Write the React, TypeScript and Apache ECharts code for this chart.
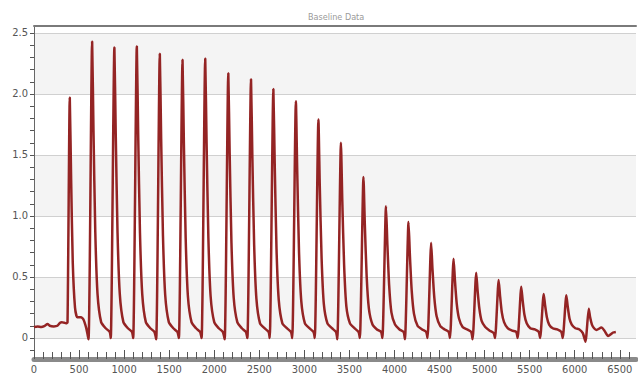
import React, { useEffect, useRef } from "react";
import * as echarts from "echarts";

const chartTitle = "Baseline Data";
const xTickLabels = [0, 500, 1000, 1500, 2000, 2500, 3000, 3500, 4000, 4500, 5000, 5500, 6000, 6500];
const yTickLabels = [0, 0.5, 1.0, 1.5, 2.0, 2.5];

// time stamps of the trace
const time = [
  0, 40, 80, 120, 150, 175, 220, 260, 290, 310, 335, 355, 372,
  397, 412, 430, 455, 480, 520, 550, 580, 605,
  645, 660, 680, 705, 745, 795, 840, 852,
  892, 907, 927, 952, 992, 1042, 1087, 1101,
  1141, 1156, 1176, 1201, 1241, 1291, 1336, 1356,
  1396, 1411, 1431, 1456, 1496, 1546, 1591, 1608,
  1648, 1663, 1683, 1708, 1748, 1798, 1843, 1860,
  1900, 1915, 1935, 1960, 2000, 2050, 2095, 2116,
  2156, 2171, 2191, 2216, 2256, 2306, 2351, 2368,
  2408, 2423, 2443, 2468, 2508, 2558, 2603, 2616,
  2656, 2671, 2691, 2716, 2756, 2806, 2851, 2866,
  2906, 2921, 2941, 2966, 3006, 3056, 3101, 3116,
  3156, 3171, 3191, 3216, 3256, 3306, 3351, 3366,
  3406, 3421, 3441, 3466, 3506, 3556, 3601, 3616,
  3656, 3671, 3691, 3716, 3756, 3806, 3851, 3866,
  3906, 3921, 3941, 3966, 4006, 4056, 4101, 4116,
  4156, 4171, 4191, 4216, 4256, 4306, 4351, 4367,
  4407, 4422, 4442, 4467, 4507, 4557, 4601, 4616,
  4656, 4671, 4691, 4716, 4756, 4806, 4851, 4867,
  4907, 4922, 4942, 4967, 5007, 5057, 5101, 5116,
  5156, 5171, 5191, 5216, 5256, 5306, 5351, 5367,
  5407, 5422, 5442, 5467, 5507, 5557, 5601, 5616,
  5656, 5671, 5691, 5716, 5756, 5806, 5851, 5867,
  5907, 5922, 5942, 5967, 6007, 6052, 6090, 6119,
  6156, 6171, 6191, 6215, 6241, 6296, 6330, 6370, 6426, 6456,
];

// signal values of the trace
const signal = [
  0.09, 0.095, 0.09, 0.1, 0.115, 0.1, 0.095, 0.1, 0.125, 0.13, 0.125, 0.12, 0.13,
  1.97, 1.3, 0.62, 0.25, 0.17, 0.17, 0.15, 0.08, -0.01,
  2.43, 1.7, 0.87, 0.36, 0.13, 0.08, 0.05, 0.0,
  2.38, 1.67, 0.86, 0.36, 0.13, 0.08, 0.05, 0.0,
  2.39, 1.67, 0.86, 0.36, 0.13, 0.08, 0.05, -0.01,
  2.33, 1.63, 0.84, 0.35, 0.13, 0.08, 0.05, 0.0,
  2.28, 1.6, 0.82, 0.34, 0.13, 0.08, 0.05, 0.0,
  2.29, 1.6, 0.82, 0.34, 0.13, 0.08, 0.05, -0.01,
  2.17, 1.52, 0.78, 0.33, 0.13, 0.08, 0.05, 0.0,
  2.12, 1.48, 0.76, 0.32, 0.12, 0.08, 0.05, 0.0,
  2.04, 1.43, 0.73, 0.31, 0.12, 0.08, 0.05, 0.0,
  1.94, 1.36, 0.7, 0.3, 0.12, 0.08, 0.05, 0.0,
  1.79, 1.25, 0.66, 0.28, 0.12, 0.08, 0.05, -0.01,
  1.6, 1.12, 0.6, 0.26, 0.12, 0.08, 0.05, 0.0,
  1.32, 0.93, 0.51, 0.24, 0.11, 0.07, 0.05, 0.0,
  1.08, 0.77, 0.43, 0.21, 0.11, 0.07, 0.05, -0.01,
  0.95, 0.68, 0.39, 0.2, 0.1, 0.07, 0.05, 0.0,
  0.78, 0.56, 0.33, 0.18, 0.1, 0.07, 0.05, 0.0,
  0.65, 0.47, 0.28, 0.16, 0.09, 0.07, 0.05, -0.01,
  0.535, 0.39, 0.24, 0.14, 0.09, 0.06, 0.04, 0.0,
  0.475, 0.35, 0.21, 0.13, 0.08, 0.06, 0.05, 0.0,
  0.42, 0.31, 0.19, 0.12, 0.08, 0.07, 0.05, 0.0,
  0.36, 0.27, 0.17, 0.11, 0.08, 0.07, 0.05, 0.0,
  0.35, 0.26, 0.16, 0.11, 0.08, 0.07, 0.04, -0.03,
  0.24, 0.17, 0.11, 0.08, 0.066, 0.085, 0.06, 0.016, 0.045, 0.05,
];

const FONT = "'Liberation Sans Narrow', 'DejaVu Sans Condensed', 'Liberation Sans', sans-serif";
const X_MIN = 0;
const X_MAX = 6680;
const Y_MIN = -0.123;
const Y_MAX = 2.557;

export default function App() {
  const ref = useRef<HTMLDivElement>(null);

  useEffect(() => {
    if (!ref.current) return;
    const chart = echarts.init(ref.current, null, { renderer: "svg" });

    const xMinorTicks: number[] = [];
    for (let v = 0; v <= 6600; v += 100) xMinorTicks.push(v);
    const yMinorTicks: number[] = [];
    for (let i = -1; i <= 25; i++) yMinorTicks.push(Math.round(i * 10) / 100);

    chart.setOption({
      animation: false,
      backgroundColor: "#ffffff",
      title: {
        text: chartTitle,
        left: 303,
        top: 7,
        textStyle: { fontSize: 9, color: "#9a9a9a", fontWeight: "normal", fontFamily: FONT },
      },
      grid: { left: 34, right: 2, top: 26, bottom: 26, containLabel: false },
      xAxis: [
        {
          type: "value",
          min: X_MIN,
          max: X_MAX,
          position: "bottom",
          offset: 6,
          axisLine: { show: true, onZero: false, lineStyle: { color: "#8a8a8a", width: 5 } },
          axisTick: {
            show: true,
            inside: true,
            length: 7,
            customValues: xMinorTicks,
            lineStyle: { color: "#555555", width: 1 },
          },
          axisLabel: {
            customValues: xTickLabels,
            fontSize: 11,
            color: "#555555",
            margin: 5,
            fontFamily: FONT,
            formatter: (v: number) => String(v),
          },
          splitLine: { show: false },
        },
        {
          type: "value",
          min: X_MIN,
          max: X_MAX,
          position: "top",
          axisLine: { show: true, onZero: false, lineStyle: { color: "#7a7a7a", width: 2 } },
          axisTick: { show: false },
          axisLabel: { show: false },
          splitLine: { show: false },
        },
        {
          type: "value",
          min: X_MIN,
          max: X_MAX,
          position: "bottom",
          offset: 6,
          axisLine: { show: false, onZero: false },
          axisTick: {
            show: true,
            inside: true,
            length: 9,
            customValues: xTickLabels,
            lineStyle: { color: "#555555", width: 1 },
          },
          axisLabel: { show: false },
          splitLine: { show: false },
        },
      ],
      yAxis: [
        {
          type: "value",
          min: Y_MIN,
          max: Y_MAX,
          position: "left",
          axisLine: { show: true, onZero: false, lineStyle: { color: "#666666", width: 1 } },
          axisTick: {
            show: true,
            length: 4,
            customValues: yMinorTicks,
            lineStyle: { color: "#555555", width: 1 },
          },
          axisLabel: {
            customValues: yTickLabels,
            fontSize: 11,
            color: "#555555",
            margin: 6,
            fontFamily: FONT,
            formatter: (v: number) => (v === 0 ? "0" : v.toFixed(1)),
          },
          splitLine: { show: false },
        },
        {
          type: "value",
          min: Y_MIN,
          max: Y_MAX,
          position: "left",
          splitNumber: 5,
          axisLine: { show: false, onZero: false },
          axisTick: { show: false },
          axisLabel: { show: false },
          splitLine: {
            show: true,
            showMinLine: false,
            showMaxLine: false,
            lineStyle: { color: "#d0d0d0", width: 1 },
          },
          splitArea: { show: true, areaStyle: { color: ["#ffffff", "#f4f4f4"] } },
        },
      ],
      series: [
        {
          type: "line",
          xAxisIndex: 0,
          yAxisIndex: 0,
          data: time.map((t, i) => [t, signal[i]]),
          showSymbol: false,
          symbol: "none",
          smooth: 0.2,
          lineStyle: { color: "#942424", width: 2.5 },
          z: 5,
        },
      ],
    });

    return () => chart.dispose();
  }, []);

  return (
    <div
      ref={ref}
      style={{ position: "absolute", left: 0, top: 0, width: 638, height: 379 }}
    />
  );
}
